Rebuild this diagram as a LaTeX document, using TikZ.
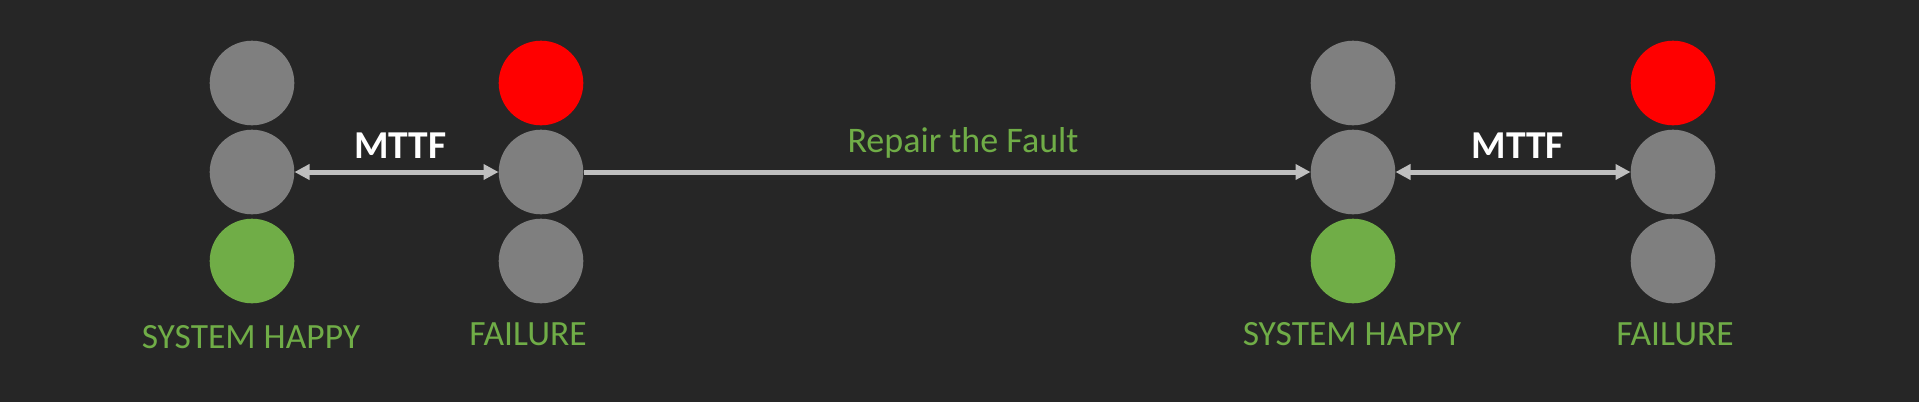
\documentclass[tikz,border=0pt]{standalone}
\usepackage{fontspec}
\setmainfont{Carlito}
\usetikzlibrary{arrows.meta}
\definecolor{bgc}{HTML}{262626}
\definecolor{offc}{HTML}{7F7F7F}
\definecolor{redc}{HTML}{FF0000}
\definecolor{greenc}{HTML}{70AD47}
\definecolor{arrc}{HTML}{BFBFBF}
\tikzset{
  lamp/.style={circle, minimum size=84.6pt, inner sep=0pt, fill=offc},
  lampred/.style={lamp, fill=redc},
  lampgreen/.style={lamp, fill=greenc},
  statelabel/.style={anchor=base, text=greenc, font=\fontsize{35.5}{42}\selectfont, inner sep=0pt},
  mttflabel/.style={anchor=base, text=white, font=\fontsize{39.5}{46}\selectfont\bfseries, inner sep=0pt},
  repairlabel/.style={anchor=base, text=greenc, font=\fontsize{36}{43}\selectfont, inner sep=0pt},
  link/.style={draw=arrc, line width=5pt, {Triangle[length=15pt,width=15pt]}-{Triangle[length=15pt,width=15pt]}},
  onelink/.style={draw=arrc, line width=5pt, -{Triangle[length=15pt,width=15pt]}}
}
\begin{document}
\begin{tikzpicture}[x=1pt,y=-1pt]
\fill[bgc] (0,0) rectangle (1919,402);
\useasboundingbox (0,0) rectangle (1919,402);
% column 1
\node[lamp] (a1) at (252,83) {};
\node[lamp] (a2) at (252,172) {};
\node[lampgreen] (a3) at (252,261) {};
% column 2
\node[lampred] (b1) at (541,83) {};
\node[lamp] (b2) at (541,172) {};
\node[lamp] (b3) at (541,261) {};
% column 3
\node[lamp] (c1) at (1353,83) {};
\node[lamp] (c2) at (1353,172) {};
\node[lampgreen] (c3) at (1353,261) {};
% column 4
\node[lampred] (d1) at (1673,83) {};
\node[lamp] (d2) at (1673,172) {};
\node[lamp] (d3) at (1673,261) {};
% labels
\node[statelabel] (la) at (251,348) {SYSTEM HAPPY};
\node[statelabel] (lb) at (528,345) {FAILURE};
\node[statelabel] (lc) at (1352,345) {SYSTEM HAPPY};
\node[statelabel] (ld) at (1675,345) {FAILURE};
\node[mttflabel] (m1) at (400.5,158) {MTTF};
\node[mttflabel] (m2) at (1518,158) {MTTF};
\node[repairlabel] (r) at (963,152) {Repair the Fault};
% connectors
\draw[link] (a2) -- (b2);
\draw[onelink] (b2) -- (c2);
\draw[link] (c2) -- (d2);
\end{tikzpicture}
\end{document}
